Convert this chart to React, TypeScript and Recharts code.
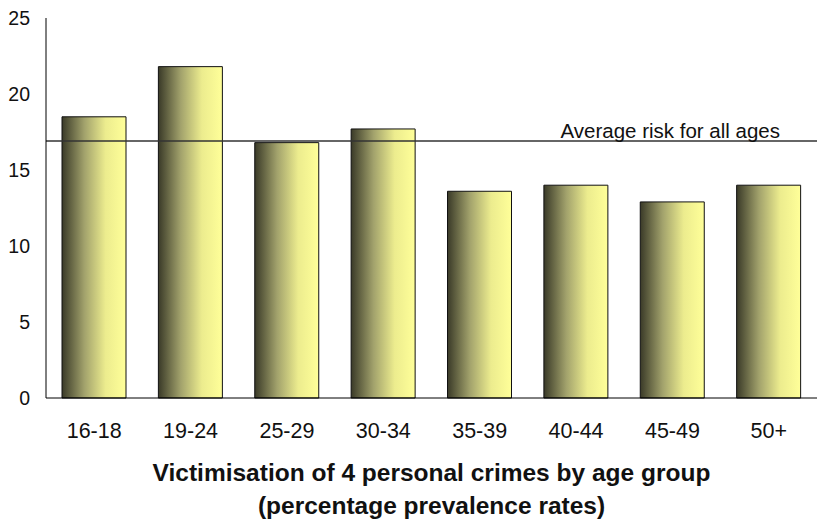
import { BarChart, Bar, XAxis, YAxis, ReferenceLine } from 'recharts'

const ageGroups = ['16-18', '19-24', '25-29', '30-34', '35-39', '40-44', '45-49', '50+']
const prevalence = [18.5, 21.8, 16.8, 17.7, 13.6, 14.0, 12.9, 14.0]
const averageRisk = 16.9
const yTicks = [0, 5, 10, 15, 20, 25]

const data = ageGroups.map((group, i) => ({ group, value: prevalence[i] }))

const font = '"Liberation Sans", Arial, sans-serif'

function AverageLabel(props: any) {
  const { viewBox } = props
  if (!viewBox) return null
  return (
    <text
      x={viewBox.x + viewBox.width - 37}
      y={viewBox.y - 3}
      textAnchor="end"
      fontSize={20.5}
      fontFamily={font}
      fill="#111"
    >
      Average risk for all ages
    </text>
  )
}

export default function App() {
  return (
    <div
      style={{
        position: 'absolute',
        left: 0,
        top: 0,
        width: 817,
        height: 521,
        background: '#fff',
        fontFamily: font,
      }}
    >
      <BarChart
        width={817}
        height={521}
        data={data}
        margin={{ top: 18, right: 0, left: 0, bottom: 83 }}
        barSize={64}
      >
        <defs>
          <linearGradient id="barShade" x1="0" y1="0" x2="1" y2="0">
            <stop offset="0%" stopColor="#3a3a28" />
            <stop offset="35%" stopColor="#a2a26c" />
            <stop offset="68%" stopColor="#ecec8e" />
            <stop offset="100%" stopColor="#ffff99" />
          </linearGradient>
        </defs>
        <XAxis
          dataKey="group"
          height={40}
          axisLine={{ stroke: '#000' }}
          tickLine={false}
          tickMargin={19}
          tick={{ fill: '#111', fontSize: 21.5, fontFamily: font }}
          interval={0}
        />
        <YAxis
          width={46}
          domain={[0, 25]}
          ticks={yTicks}
          axisLine={{ stroke: '#000' }}
          tickLine={false}
          tickMargin={10}
          tick={{ fill: '#111', fontSize: 19.5, fontFamily: font }}
        />
        <Bar
          dataKey="value"
          fill="url(#barShade)"
          stroke="#111"
          strokeWidth={1}
          isAnimationActive={false}
        />
        <ReferenceLine
          y={averageRisk}
          stroke="#333"
          strokeWidth={1.5}
          label={<AverageLabel />}
        />
      </BarChart>
      <div
        style={{
          position: 'absolute',
          left: 46,
          width: 771,
          top: 456,
          textAlign: 'center',
          fontWeight: 'bold',
          fontSize: 24.5,
          lineHeight: '33px',
          color: '#111',
        }}
      >
        Victimisation of 4 personal crimes by age group
        <br />
        (percentage prevalence rates)
      </div>
    </div>
  )
}
